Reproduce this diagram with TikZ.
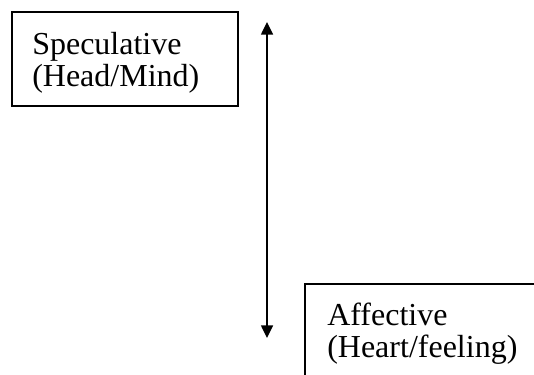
\documentclass[tikz,border=0pt]{standalone}
\usepackage{fontspec}
\setmainfont{Liberation Serif}
\usetikzlibrary{arrows.meta}
\begin{document}
\begin{tikzpicture}[x=0.75pt,y=-0.75pt,
  frame/.style={draw=black,line width=1.1pt},
  label/.style={anchor=base west,inner sep=0pt,font=\fontsize{24}{24}\selectfont,align=left},
  axis/.style={line width=1.1pt,{Triangle[length=9.5pt,width=9pt]}-{Triangle[length=9.5pt,width=9pt]}}]
  \useasboundingbox (0,0) rectangle (534,374);
  \begin{scope}
    \clip (0,0) rectangle (534,374);
    % upper box
    \draw[frame] (12,12) rectangle (238,106);
    \node[label] (spec) at (32,87) {Speculative\\(Head/Mind)};
    % lower box, running off the page
    \draw[frame] (305,284) rectangle (545,390);
    \node[label] (aff) at (327,357) {Affective\\(Heart/feeling)};
  \end{scope}
  % double-headed scale between the two poles
  \coordinate (top) at (267,22);
  \coordinate (bottom) at (267,338);
  \draw[axis] (top) -- (bottom);
\end{tikzpicture}
\end{document}
